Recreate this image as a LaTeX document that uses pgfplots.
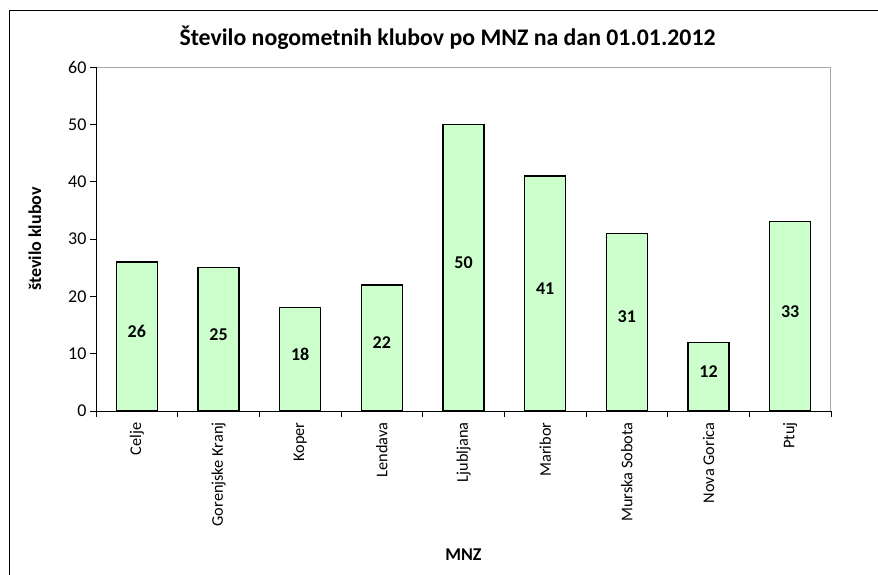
\documentclass[border=0pt]{standalone}
\usepackage{pgfplots}
\pgfplotsset{compat=1.18}
\usepackage{fontspec}
\setmainfont{Carlito}
\definecolor{barfill}{RGB}{204,255,204}
\newcommand\lbl{\fontsize{16.3bp}{19bp}\selectfont}
\newcommand\lblbig{\fontsize{18bp}{21bp}\selectfont}
\begin{document}
\begin{tikzpicture}
\useasboundingbox (0,0) rectangle (878bp,-575bp);
\draw[line width=1bp] (9bp,-600bp) -- (9bp,-10bp) -- (900bp,-10bp);
\begin{axis}[
  at={(96bp,-411bp)}, anchor=south west,
  width=735bp, height=344bp, scale only axis,
  ymin=0, ymax=60, ytick={0,10,...,60},
  xmin=0.5, xmax=9.5,
  xtick={1,...,9},
  xticklabels={Celje,Gorenjske Kranj,Koper,Lendava,Ljubljana,Maribor,Murska Sobota,Nova Gorica,Ptuj},
  x tick label style={rotate=90, anchor=east, font=\lbl},
  xticklabel shift=2bp,
  y tick label style={font=\lblbig},
  /pgf/number format/assume math mode=true,
  tick align=outside, xtick pos=bottom, ytick pos=left,
  major tick length=6bp,
  tick style={black, line width=0.8bp},
  xtick style={draw=none},
  extra x ticks={0.5,1.5,...,9.5},
  extra x tick labels={},
  extra x tick style={xtick style={draw=black}},
  axis line style={draw=gray!70, line width=1bp},
  title={\bfseries Število nogometnih klubov po MNZ na dan 01.01.2012},
  title style={font=\fontsize{23.8bp}{27bp}\selectfont, at={(axis description cs:0.5,1)}, anchor=base, xshift=-16bp, yshift=16bp},
  xlabel={\bfseries MNZ},
  xlabel style={font=\lblbig, at={(axis description cs:0.5,0)}, anchor=center, yshift=-144bp},
  ylabel={\bfseries število klubov},
  ylabel style={font=\lblbig, at={(axis description cs:0,0.5)}, anchor=center, yshift=61bp},
  clip=false,
]
\addplot[ybar, bar width=0.5, fill=barfill, draw=black, line width=1.3bp]
  coordinates {(1,26) (2,25) (3,18) (4,22) (5,50) (6,41) (7,31) (8,12) (9,33)};
\addplot[draw=none, mark=none, nodes near coords, point meta=explicit symbolic,
  every node near coord/.style={anchor=center, font=\lblbig\bfseries, yshift=5bp}]
  coordinates {(1,13) [26] (2,12.5) [25] (3,9) [18] (4,11) [22] (5,25) [50]
    (6,20.5) [41] (7,15.5) [31] (8,6) [12] (9,16.5) [33]};
\draw[black, line width=1bp] (rel axis cs:0,1) -- (rel axis cs:0,0) -- (rel axis cs:1,0);
\end{axis}
\end{tikzpicture}
\end{document}
